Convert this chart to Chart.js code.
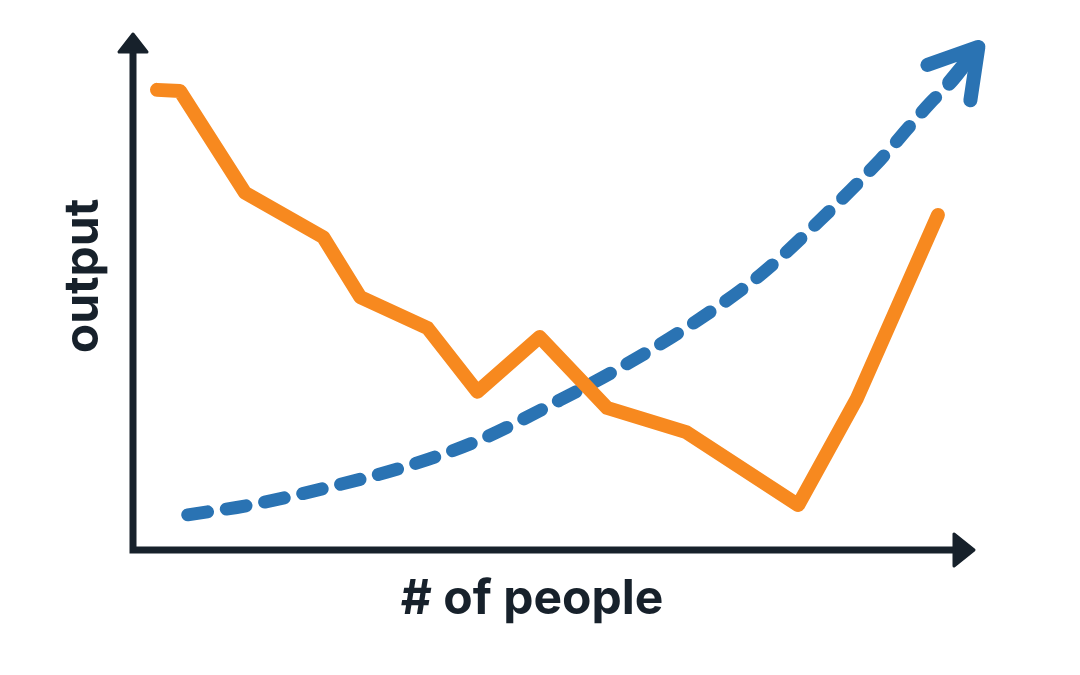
<!DOCTYPE html>
<html><head><meta charset="utf-8">
<script src="https://cdn.jsdelivr.net/npm/chart.js@4"></script>
<style>html,body{margin:0;padding:0;background:#fff}#wrap{width:1080px;height:675px}</style>
</head><body><div id="wrap"><canvas id="c" width="1080" height="675"></canvas></div>
<script>
const xAxisLabel = "# of people";
const yAxisLabel = "output";
const actualX = [2.85, 5.58, 13.3, 22.6, 27.0, 35.0, 40.9, 48.3, 56.3, 65.7, 79.0, 86.0, 95.6];
const actualY = [89.0, 88.8, 69.1, 60.5, 48.9, 42.9, 30.6, 41.2, 27.5, 22.8, 8.7, 29.4, 64.8];
const trendX = [6.5, 13.9, 23.4, 32.9, 41.2, 50.7, 57.8, 66.2, 74.5, 81.6, 88.7, 94.7, 97.4, 100.4];
const trendY = [6.8, 8.7, 12.2, 16.4, 21.3, 29.0, 35.2, 43.5, 53.2, 63.8, 75.4, 86.5, 90.9, 97.3];

const INK = '#17212b';
const ORANGE = '#f7891f';
const BLUE = '#2a73b3';
const FONT = 'Inter, "Open Sans", sans-serif';

const decor = {
  id: 'decor',
  beforeDatasetsDraw(chart) {
    const ctx = chart.ctx, a = chart.chartArea;
    ctx.save();
    ctx.strokeStyle = INK; ctx.fillStyle = INK;
    ctx.lineWidth = 7; ctx.lineCap = 'butt';
    ctx.beginPath();
    ctx.moveTo(a.left, a.bottom + 3.5); ctx.lineTo(a.left, a.top + 18);
    ctx.moveTo(a.left - 3.5, a.bottom); ctx.lineTo(a.right - 20, a.bottom);
    ctx.stroke();
    ctx.lineJoin = 'round'; ctx.lineWidth = 3;
    ctx.beginPath();
    ctx.moveTo(a.left, a.top + 1); ctx.lineTo(a.left - 14, a.top + 19); ctx.lineTo(a.left + 14, a.top + 19); ctx.closePath();
    ctx.fill(); ctx.stroke();
    ctx.beginPath();
    ctx.moveTo(a.right - 1, a.bottom); ctx.lineTo(a.right - 21, a.bottom - 16); ctx.lineTo(a.right - 21, a.bottom + 16); ctx.closePath();
    ctx.fill(); ctx.stroke();
    ctx.font = '700 48px ' + FONT;
    ctx.textAlign = 'center'; ctx.textBaseline = 'alphabetic';
    ctx.fillText(xAxisLabel, 532, 614);
    ctx.translate(98, 276); ctx.rotate(-Math.PI / 2);
    ctx.fillText(yAxisLabel, 0, 0);
    ctx.restore();
  },
  afterDatasetsDraw(chart) {
    const ctx = chart.ctx;
    const xs = chart.scales.x, ys = chart.scales.y;
    const n = trendX.length;
    const tx = xs.getPixelForValue(trendX[n - 1]), ty = ys.getPixelForValue(trendY[n - 1]);
    const ang = Math.atan2(-0.771, 0.636);
    const half = 31 * Math.PI / 180, len = 54;
    ctx.save();
    ctx.strokeStyle = BLUE; ctx.lineWidth = 14; ctx.lineCap = 'round'; ctx.lineJoin = 'round';
    ctx.beginPath();
    ctx.moveTo(tx - len * Math.cos(ang - half), ty - len * Math.sin(ang - half));
    ctx.lineTo(tx, ty);
    ctx.lineTo(tx - len * Math.cos(ang + half), ty - len * Math.sin(ang + half));
    ctx.moveTo(tx, ty);
    ctx.lineTo(tx - 46 * Math.cos(ang), ty - 46 * Math.sin(ang));
    ctx.stroke();
    ctx.restore();
  }
};

new Chart(document.getElementById('c'), {
  type: 'line',
  data: {
    datasets: [
      {
        label: 'actual',
        data: actualX.map((x, i) => ({ x, y: actualY[i] })),
        borderColor: ORANGE, borderWidth: 14, borderCapStyle: 'round', borderJoinStyle: 'round',
        pointRadius: 0, tension: 0, fill: false
      },
      {
        label: 'trend',
        data: trendX.map((x, i) => ({ x, y: trendY[i] })),
        borderColor: BLUE, borderWidth: 13, borderCapStyle: 'round', borderDash: [20, 19],
        pointRadius: 0, tension: 0.4, cubicInterpolationMode: 'monotone', fill: false
      }
    ]
  },
  options: {
    responsive: false, animation: false, devicePixelRatio: 1,
    layout: { padding: { left: 133, right: 105, top: 33, bottom: 125 } },
    plugins: { legend: { display: false }, tooltip: { enabled: false } },
    scales: {
      x: { type: 'linear', min: 0, max: 100, display: false },
      y: { type: 'linear', min: 0, max: 100, display: false }
    }
  },
  plugins: [decor]
});
</script>
</body></html>
